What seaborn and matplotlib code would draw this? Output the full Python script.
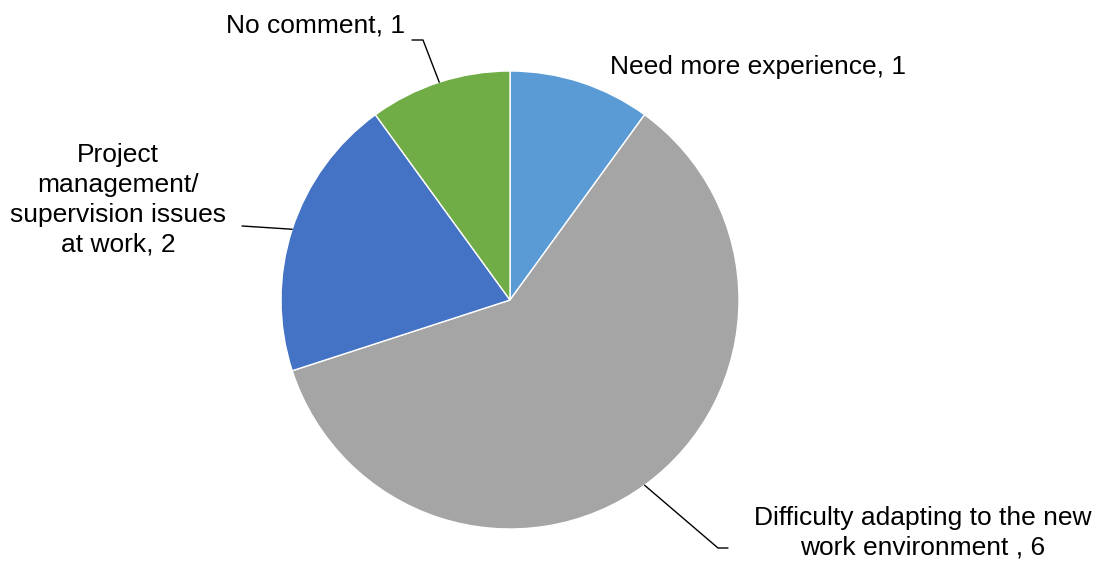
import numpy as np
import matplotlib.pyplot as plt
import seaborn as sns

# data
categories = ["Need more experience", "Difficulty adapting to the new\nwork environment ",
              "Project\nmanagement/\nsupervision issues\nat work", "No comment"]
counts = [1, 6, 2, 1]
colors = ["#5B9BD5", "#A5A5A5", "#4472C4", "#70AD47"]

sns.set_theme(style="white")
plt.rcParams['font.family'] = ['Liberation Sans', 'DejaVu Sans']

W, H = 1104, 561
fig = plt.figure(figsize=(W / 100, H / 100), dpi=100)
ax = fig.add_axes([0, 0, 1, 1])

cx, cy, r = 510, H - 300, 229
wedges, _ = ax.pie(counts, colors=sns.color_palette(colors), startangle=90, counterclock=False,
                   center=(cx, cy), radius=r, frame=True,
                   wedgeprops=dict(edgecolor='white', linewidth=1))
ax.set_xlim(0, W)
ax.set_ylim(0, H)
ax.set_aspect('equal')
ax.axis('off')

# label layout: (text x, text y, ha, leader knee points) in pixel coords from top
layout = [
    (610, 67, 'left', None),
    (923, 533, 'center', [(718, 548), (728, 548)]),
    (118, 200, 'center', [(242, 226)]),
    (405, 25, 'right', [(423, 40), (412, 40)]),
]

for w, cat, n, (tx, ty, ha, knees) in zip(wedges, categories, counts, layout):
    ax.text(tx, H - ty, f"{cat}, {n}", ha=ha, va='center', fontsize=19,
            color='black', linespacing=1.3, multialignment='center')
    if knees:
        mid = np.deg2rad((w.theta1 + w.theta2) / 2)
        xs = [cx + r * np.cos(mid)] + [k[0] for k in knees]
        ys = [cy + r * np.sin(mid)] + [H - k[1] for k in knees]
        ax.plot(xs, ys, color='black', linewidth=1)

fig.savefig("out.png", dpi=100)
